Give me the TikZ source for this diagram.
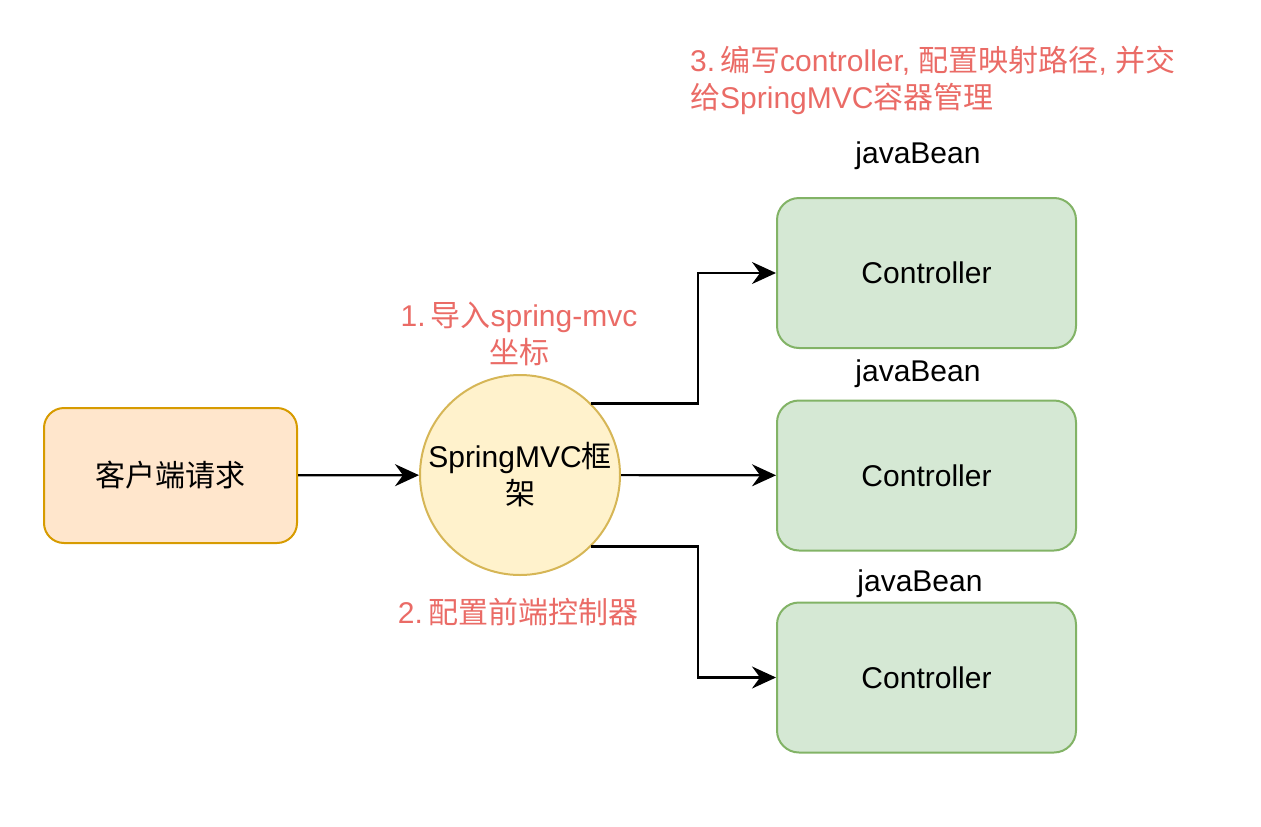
\documentclass[tikz,border=0pt]{standalone}
\usepackage{fontspec}
\setmainfont{Liberation Sans}
\newfontfamily\cjk{Noto Sans CJK SC}
\newcommand{\zh}[1]{{\cjk #1}}
\usetikzlibrary{arrows.meta,positioning,calc}

\definecolor{reqfill}{HTML}{FFE6CC}
\definecolor{reqline}{HTML}{D79B00}
\definecolor{mvcfill}{HTML}{FFF2CC}
\definecolor{mvcline}{HTML}{D6B656}
\definecolor{ctrlfill}{HTML}{D5E8D4}
\definecolor{ctrlline}{HTML}{82B366}
\definecolor{note}{HTML}{EA6B66}

\tikzset{
  every node/.style={font=\fontsize{30}{37}\selectfont},
  reqbox/.style={draw=reqline, fill=reqfill, line width=2, rounded corners=20,
    minimum width=253, minimum height=135, inner sep=0},
  mvcball/.style={circle, draw=mvcline, fill=mvcfill, line width=2,
    minimum size=200, inner sep=0, align=center},
  ctrlbox/.style={draw=ctrlline, fill=ctrlfill, line width=2, rounded corners=22,
    minimum width=299, minimum height=150, inner sep=0},
  notetext/.style={text=note, inner sep=0},
  arr/.style={-{Stealth[length=24,width=22,inset=8]}, line width=2.2},
}

\begin{document}
\begin{tikzpicture}[x=1pt, y=-1pt]

\useasboundingbox (0,0) rectangle (1261,827);

\node[reqbox] (req) at (170.5,475.5) {\zh{客户端请求}};
\node[mvcball] (spring) at (520,475) {SpringMVC\zh{框}\\\zh{架}};

\node[ctrlbox] (ctrlA) at (926.5,273) {Controller};
\node[ctrlbox] (ctrlB) at (926.5,475.5) {Controller};
\node[ctrlbox] (ctrlC) at (926.5,677.5) {Controller};

\node (beanA) at (918,156) {javaBean};
\node (beanB) at (918,374) {javaBean};
\node (beanC) at (920,584) {javaBean};

% notes
\node[notetext, align=center] (noteA) at (519,334)
  {1.\hspace{5pt}\zh{导入}spring-mvc\\\zh{坐标}};
\node[notetext] (noteB) at (518,612) {2.\hspace{5pt}\zh{配置前端控制器}};
\node[notetext, align=left, anchor=west] (noteC) at (690,80)
  {3.\hspace{5pt}\zh{编写}controller, \zh{配置映射路径}, \zh{并交}\\\zh{给}SpringMVC\zh{容器管理}};

% connectors
\coordinate (knee) at (698,475);
\draw[arr] (req) -- (spring);
\draw[arr] (spring) -- (ctrlB);
\draw[arr] (spring.45) -- (spring.45 -| knee) |- (ctrlA.west);
\draw[arr] (spring.-45) -- (spring.-45 -| knee) |- (ctrlC.west);

\end{tikzpicture}
\end{document}
